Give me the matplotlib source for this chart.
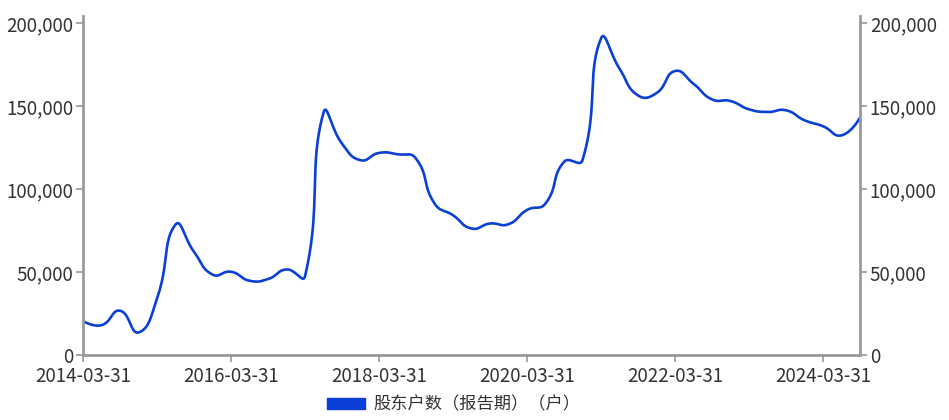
"""
股东户数（报告期）chart
"""

import matplotlib

matplotlib.use("Agg")
import matplotlib.pyplot as plt
import numpy as np
from matplotlib.patches import Patch

plt.rcParams["font.family"] = ["Noto Sans CJK SC", "DejaVu Sans"]

# quarterly report dates, 2014-03-31 .. 2024-09-30
dates = [
    f"{y}-{md}"
    for y in range(2014, 2025)
    for md in ("03-31", "06-30", "09-30", "12-31")
][:43]

holders = [
    20500, 18000, 26700, 13600, 34000, 78700, 62200, 48500, 50200, 44800,
    45800, 51600, 47500, 146300, 127500, 117500, 121900, 121100, 118500, 91400,
    84300, 76300, 79300, 78900, 87500, 91400, 116500, 117500, 191000, 172700,
    156600, 158000, 171300, 163600, 154200, 153200, 148200, 146600, 147600, 141600,
    138000, 132500, 143200,
]

series_name = "股东户数（报告期）（户）"
line_color = "#0b40d6"
axis_color = "#999999"
text_color = "#333333"


def smooth(x, y, xs=18.5, ys=331 / 200000, k=0.5, n=24):
    # bezier smoothing like the web chart lib does it (lengths in pixel space)
    px = np.asarray(x, float) * xs
    py = np.asarray(y, float) * ys
    m = len(px)
    c0 = np.zeros((m, 2))
    c1 = np.zeros((m, 2))
    for i in range(m):
        p = np.array([px[i], py[i]])
        if i == 0 or i == m - 1:
            c0[i] = c1[i] = p
            continue
        a = np.array([px[i - 1], py[i - 1]])
        b = np.array([px[i + 1], py[i + 1]])
        d = b - a
        lp = np.hypot(*(p - a))
        ln = np.hypot(*(b - p))
        r = ln / (ln + lp)
        c0[i] = p - d * k * (1 - r)
        c1[i] = p + d * k * r
    out = []
    s = np.linspace(0, 1, n, endpoint=False)[:, None]
    for i in range(m - 1):
        p0 = np.array([px[i], py[i]])
        p3 = np.array([px[i + 1], py[i + 1]])
        seg = ((1 - s) ** 3 * p0 + 3 * (1 - s) ** 2 * s * c1[i]
               + 3 * (1 - s) * s**2 * c0[i + 1] + s**3 * p3)
        out.append(seg)
    out.append(np.array([[px[-1], py[-1]]]))
    out = np.concatenate(out)
    return out[:, 0] / xs, out[:, 1] / ys


fig = plt.figure(figsize=(9.49, 4.2), dpi=100)
ax = fig.add_axes([0.0875, 0.1548, 0.8187, 0.8071])

idx = np.arange(len(holders))
sx, sy = smooth(idx, holders)
ax.plot(sx, sy, color=line_color, lw=1.9, solid_capstyle="round")

ax.set_xlim(0, len(holders) - 1)
ax.set_ylim(0, 204500)
yt = np.arange(0, 200001, 50000)
ax.set_yticks(yt)
ax.set_yticklabels([f"{v:,}" for v in yt])
ax.set_xticks(idx[::8])
ax.set_xticklabels(dates[::8])

ax.spines["top"].set_visible(False)
for side in ("left", "right", "bottom"):
    ax.spines[side].set_color(axis_color)
    ax.spines[side].set_linewidth(2)

ax.tick_params(axis="both", colors=axis_color, labelcolor=text_color,
               labelsize=13.5, length=5, width=1.2)
ax.tick_params(axis="y", right=True, labelright=True, pad=2)
ax.tick_params(axis="x", pad=3)

fig.legend(
    handles=[Patch(color=line_color, label=series_name)],
    loc="center",
    bbox_to_anchor=(0.478, 0.037),
    frameon=False,
    fontsize=12.4,
    handlelength=2.2,
    handleheight=0.6,
    handletextpad=0.45,
    labelcolor=text_color,
)

fig.savefig("out.png", dpi=100)
